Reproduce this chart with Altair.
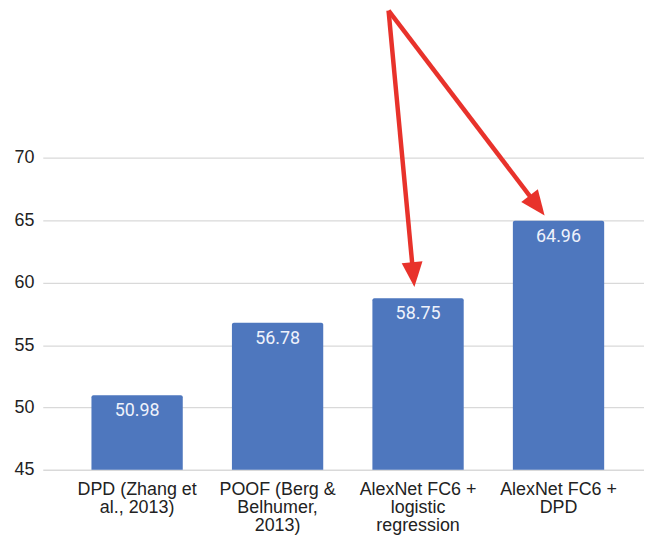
import math
import altair as alt
import pandas as pd

# ---- data ----
categories = [
    "DPD (Zhang et\nal., 2013)",
    "POOF (Berg &\nBelhumer,\n2013)",
    "AlexNet FC6 +\nlogistic\nregression",
    "AlexNet FC6 +\nDPD",
]
values = [50.98, 56.78, 58.75, 64.96]
y_ticks = [45, 50, 55, 60, 65, 70]

# arrow annotations (x in category-index units, y in value units)
arrow_start_x = [1.79, 1.79]
arrow_start_y = [81.82, 81.82]
arrow_tip_x = [1.974, 2.901]
arrow_tip_y = [59.66, 65.40]

# ---- layout / style ----
W, H = 605, 463
YMIN, YMAX = 45, 81.9
PI, PO, ALIGN = 0.35, 0.315, 0.55
BAR_COLOR = "#4e77be"
RED = "#e8322b"
AXIS_FONT = "Liberation Sans"

n = len(categories)
step = W / (n - PI + 2 * PO)
c0 = (W - step * (n - PI)) * ALIGN + step * (1 - PI) / 2
xa, xb = -c0 / step, (W - c0) / step
pyu = H / (YMAX - YMIN)

bars_df = pd.DataFrame({"cat": categories, "val": values})

rows = []
HEAD = 25.0
for sx, sy, tx, ty in zip(arrow_start_x, arrow_start_y, arrow_tip_x, arrow_tip_y):
    dx = (tx - sx) * step
    dy = (sy - ty) * pyu
    L = math.hypot(dx, dy)
    ux, uy = dx / L, dy / L
    ang = math.degrees(math.atan2(-dx, dy)) % 360
    back = HEAD * 0.6
    ex = tx - back * ux / step
    ey = ty + back * uy / pyu
    rows.append({"sx": sx, "sy": sy, "tx": tx, "ty": ty, "ex": ex, "ey": ey, "angle": ang})
arrows_df = pd.DataFrame(rows)

y_axis = alt.Axis(
    values=y_ticks, grid=True, gridColor="#d9d9d9", gridWidth=1.3,
    domain=False, ticks=False, labelFontSize=18, labelFont=AXIS_FONT,
    labelColor="#222222", labelPadding=9, title=None,
)
y_scale = alt.Scale(domain=[YMIN, YMAX], nice=False, zero=False)

x_enc = alt.X(
    "cat:N", sort=categories,
    scale=alt.Scale(paddingInner=PI, paddingOuter=PO, align=ALIGN),
    axis=alt.Axis(
        labelExpr="split(datum.label, '\\n')", labelAngle=0,
        labelFontSize=18, labelFont=AXIS_FONT, labelColor="#222222",
        labelLineHeight=18, labelBaseline="top", labelPadding=11,
        labelLimit=300, domain=False, ticks=False, title=None,
    ),
)

bars = alt.Chart(bars_df).mark_bar(
    color=BAR_COLOR, cornerRadiusTopLeft=2, cornerRadiusTopRight=2
).encode(
    x=x_enc,
    y=alt.Y("val:Q", scale=y_scale, axis=y_axis),
    y2=alt.datum(YMIN),
)

labels = alt.Chart(bars_df).mark_text(
    baseline="middle", align="center", dy=16, font="Roboto",
    fontSize=18, color="#eef2fb",
).encode(
    x=x_enc,
    y=alt.Y("val:Q", scale=y_scale, axis=y_axis),
    text=alt.Text("val:Q", format=".2f"),
)

ax_scale = alt.Scale(domain=[xa, xb], nice=False, zero=False)

shafts = alt.Chart(arrows_df).mark_rule(
    color=RED, strokeWidth=4.5, strokeCap="butt"
).encode(
    x=alt.X("sx:Q", scale=ax_scale, axis=None),
    x2="ex:Q",
    y=alt.Y("sy:Q", scale=y_scale, axis=y_axis),
    y2="ey:Q",
)

heads = alt.Chart(arrows_df).mark_point(
    shape="M0,0L-0.84,-2L0.84,-2Z", filled=True, size=HEAD * HEAD,
    color=RED, opacity=1, strokeWidth=0,
).encode(
    x=alt.X("tx:Q", scale=ax_scale, axis=None),
    y=alt.Y("ty:Q", scale=y_scale, axis=y_axis),
    angle=alt.Angle("angle:Q", scale=None),
)

bar_layer = alt.layer(bars, labels)
arrow_layer = alt.layer(shafts, heads)

chart = alt.layer(bar_layer, arrow_layer).resolve_scale(
    x="independent"
).properties(
    width=W, height=H,
    background="white",
    autosize=alt.AutoSizeParams(type="none"),
    padding={"left": 35, "top": 0, "right": 0, "bottom": 65},
).configure_view(strokeWidth=0, stroke="transparent")

chart.save("out.html", embed_options={"renderer": "svg", "actions": False})
